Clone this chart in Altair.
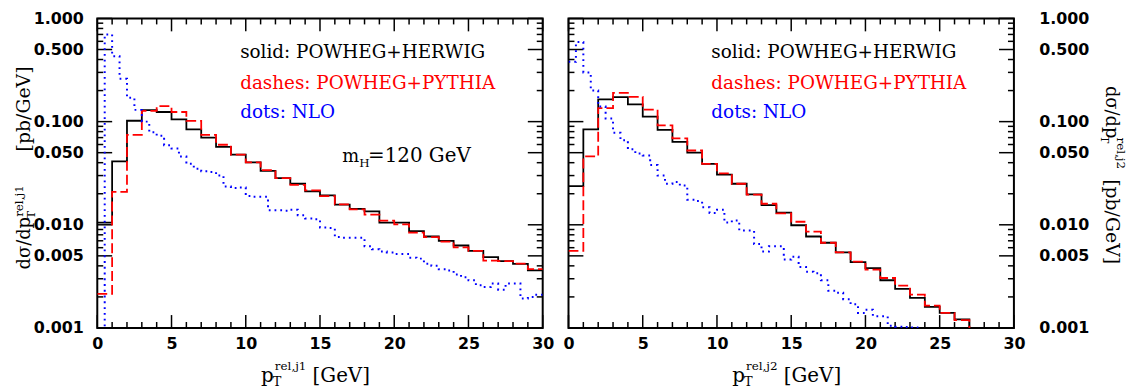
import altair as alt
import pandas as pd

# ---------------- data ----------------
bin_edges = list(range(31))                      # 1 GeV bins, 0..30
nlo_edges = [i * 0.5 for i in range(61)]         # 0.5 GeV bins, 0..30

herwig_j1 = [0.0105, 0.0412, 0.102, 0.1295, 0.124, 0.105, 0.0843, 0.070, 0.057, 0.0478,
             0.0403, 0.0333, 0.0283, 0.0250, 0.0211, 0.0193, 0.0157, 0.0143, 0.0135, 0.0105,
             0.0105, 0.0087, 0.0077, 0.0070, 0.0063, 0.0056, 0.00485, 0.00444, 0.00419, 0.00361]
pythia_j1 = [0.00214, 0.0208, 0.0745, 0.127, 0.1416, 0.124, 0.1016, 0.0745, 0.0597, 0.0478,
             0.0403, 0.0338, 0.0283, 0.0244, 0.0216, 0.0190, 0.0158, 0.0141, 0.01256, 0.0110,
             0.0101, 0.0084, 0.0076, 0.00687, 0.00605, 0.0056, 0.0045, 0.00444, 0.0042, 0.00372]
nlo_j1 = [0.0005, 0.70, 0.43, 0.26, 0.17, 0.13, 0.10, 0.079, 0.073, 0.059,
          0.055, 0.046, 0.039, 0.035, 0.033, 0.0325, 0.030, 0.0235, 0.0227, 0.023,
          0.019, 0.0187, 0.0187, 0.0138, 0.0138, 0.0137, 0.0140, 0.0124, 0.0115, 0.0113,
          0.0094, 0.0093, 0.0076, 0.0075, 0.0075, 0.0075, 0.0062, 0.0058, 0.0055, 0.0054,
          0.0052, 0.0052, 0.0048, 0.0047, 0.0042, 0.0040, 0.0037, 0.0036, 0.0033, 0.0031,
          0.0029, 0.0026, 0.0025, 0.0027, 0.00235, 0.0027, 0.0027, 0.00193, 0.0020, 0.0021]

herwig_j2 = [0.0237, 0.0843, 0.164, 0.173, 0.147, 0.112, 0.083, 0.0637, 0.050, 0.0389,
             0.0307, 0.0250, 0.0197, 0.0155, 0.0131, 0.0099, 0.0077, 0.0067, 0.0054, 0.00434,
             0.0038, 0.0029, 0.00239, 0.00196, 0.0016, 0.0014, 0.00121, 0.0005, 0.0005, 0.0005]
pythia_j2 = [0.00559, 0.046, 0.135, 0.19, 0.174, 0.131, 0.092, 0.0687, 0.0525, 0.039,
             0.0315, 0.025, 0.0196, 0.016, 0.0129, 0.0107, 0.0086, 0.0067, 0.0054, 0.0044,
             0.00367, 0.00305, 0.00257, 0.0021, 0.00165, 0.0014, 0.00119, 0.0005, 0.0005, 0.0005]
nlo_j2 = [0.38, 0.59, 0.30, 0.20, 0.14, 0.107, 0.078, 0.066, 0.054, 0.049,
          0.047, 0.038, 0.030, 0.025, 0.026, 0.024, 0.0175, 0.017, 0.0148, 0.013,
          0.014, 0.0105, 0.011, 0.0088, 0.0088, 0.0065, 0.0055, 0.0062, 0.0062, 0.0046,
          0.0049, 0.0039, 0.0035, 0.0034, 0.0029, 0.0023, 0.0022, 0.0019, 0.0017, 0.0014,
          0.0015, 0.0013, 0.0013, 0.00105, 0.00103, 0.00102, 0.00101, 0.0005, 0.0005, 0.0005,
          0.0005, 0.0005, 0.0005, 0.0005, 0.0005, 0.0005, 0.0005, 0.0005, 0.0005, 0.0005]

y_major = [0.001, 0.005, 0.01, 0.05, 0.1, 0.5, 1.0]
y_minor = [0.002, 0.003, 0.004, 0.006, 0.007, 0.008, 0.009,
           0.02, 0.03, 0.04, 0.06, 0.07, 0.08, 0.09,
           0.2, 0.3, 0.4, 0.6, 0.7, 0.8, 0.9]
x_major = [0, 5, 10, 15, 20, 25, 30]
x_minor = [v for v in range(31) if v % 5 != 0]

legend_lines = ["solid: POWHEG+HERWIG", "dashes: POWHEG+PYTHIA", "dots: NLO"]
legend_colors = ["#000000", "#ff0000", "#0000ff"]

# ---------------- helpers ----------------
W, H = 449, 312
XSCALE = alt.Scale(domain=[0, 30], nice=False, zero=False)
YSCALE = alt.Scale(type="log", domain=[0.001, 1], nice=False)
TICKFONT = "DejaVu Sans"
SERIF = "DejaVu Serif"


def x_axis():
    return alt.Axis(values=x_major, labelFont=TICKFONT, labelFontWeight="bold",
                    labelFontSize=16, labelColor="black", labelPadding=8,
                    labelFlush=False, labelOverlap=False, ticks=False,
                    domain=False, grid=False, title=None)


def y_axis(side):
    return alt.Axis(values=y_major, format=".3f", orient=side, labelFont=TICKFONT,
                    labelFontWeight="bold", labelFontSize=16, labelColor="black",
                    labelPadding=14 if side == "left" else 25,
                    labelAlign="right" if side == "left" else "left",
                    labelOverlap=False, labelFlush=False, ticks=False, domain=False,
                    grid=False, title=None)


def steps(edges, values):
    ys = list(values) + [values[-1]]
    return pd.DataFrame({"x": edges, "y": ys, "i": list(range(len(edges)))})


def hist_layer(edges, values, color, dash, width, side):
    mk = dict(interpolate="step-after", color=color, strokeWidth=width, clip=True)
    if dash:
        mk["strokeDash"] = dash
    return alt.Chart(steps(edges, values)).mark_line(**mk).encode(
        x=alt.X("x:Q", scale=XSCALE, axis=x_axis()),
        y=alt.Y("y:Q", scale=YSCALE, axis=y_axis(side)),
        order="i:Q",
    )


def ytick_layer(vals, length, side):
    df = pd.DataFrame({"v": vals})
    layers = []
    for x0, x1 in [(0, length), (W, W - length)]:
        layers.append(alt.Chart(df).mark_rule(color="black", strokeWidth=1.5).encode(
            y=alt.Y("v:Q", scale=YSCALE, axis=y_axis(side)),
            x=alt.value(x0), x2=alt.value(x1)))
    return layers


def xtick_layer(vals, length, side):
    df = pd.DataFrame({"v": vals})
    layers = []
    for y0, y1 in [(H, H - length), (0, length)]:
        layers.append(alt.Chart(df).mark_rule(color="black", strokeWidth=1.5).encode(
            x=alt.X("v:Q", scale=XSCALE, axis=x_axis()),
            y=alt.value(y0), y2=alt.value(y1)))
    return layers


def text(t, x, y, size, color="black", angle=0, font=SERIF, weight="normal"):
    return alt.Chart(pd.DataFrame({"t": [t]})).mark_text(
        align="left", baseline="alphabetic", font=font, fontSize=size,
        color=color, angle=angle, fontWeight=weight).encode(
        text="t:N", x=alt.value(x), y=alt.value(y))


def panel(herwig, pythia, nlo, side, jet):
    layers = []
    layers += ytick_layer(y_major, 15, side)
    layers += ytick_layer(y_minor, 6, side)
    layers += xtick_layer(x_major, 13, side)
    layers += xtick_layer(x_minor, 6, side)
    layers.append(hist_layer(bin_edges, herwig, "#000000", None, 1.8, side))
    layers.append(hist_layer(bin_edges, pythia, "#ff0000", [10, 4], 1.8, side))
    layers.append(hist_layer(nlo_edges, nlo, "#0000ff", [1.8, 4], 2, side))
    # legend text
    for k, (s, c) in enumerate(zip(legend_lines, legend_colors)):
        layers.append(text(s, 144, [40, 71, 100][k], 18.5, c))
    # x title
    layers.append(text("p", 165, 366, 20))
    layers.append(text("T", 177, 370, 13))
    layers.append(text("rel," + jet, 179, 354, 12))
    layers.append(text("[GeV]", 217, 366, 20))
    if side == "left":
        layers.append(text("m", 247, 145, 18))
        layers.append(text("H", 264, 150, 12))
        layers.append(text("=120 GeV", 273, 145, 20))
        # rotated y title (reading upward)
        layers.append(text("dσ/dp", -68, 253, 18, angle=270))
        layers.append(text("T", -63, 202, 12, angle=270))
        layers.append(text("rel,j1", -75, 200, 12, angle=270))
        layers.append(text("[pb/GeV]", -68, 134, 19, angle=270))
    else:
        # rotated y title (reading downward)
        layers.append(text("dσ/dp", 542, 68, 18, angle=90))
        layers.append(text("T", 537, 118, 12, angle=90))
        layers.append(text("rel,j2", 553, 120, 12, angle=90))
        layers.append(text("[pb/GeV]", 542, 162, 19, angle=90))
    return alt.layer(*layers).properties(width=W, height=H)


left = panel(herwig_j1, pythia_j1, nlo_j1, "left", "j1")
right = panel(herwig_j2, pythia_j2, nlo_j2, "right", "j2")

chart = alt.hconcat(left, right, spacing=26, bounds="flush").properties(
    padding={"left": 4, "top": 0, "right": 0, "bottom": 0}, background="white"
).configure_view(stroke="black", strokeWidth=2)

chart.save("out.html", embed_options={"renderer": "svg", "actions": False})
